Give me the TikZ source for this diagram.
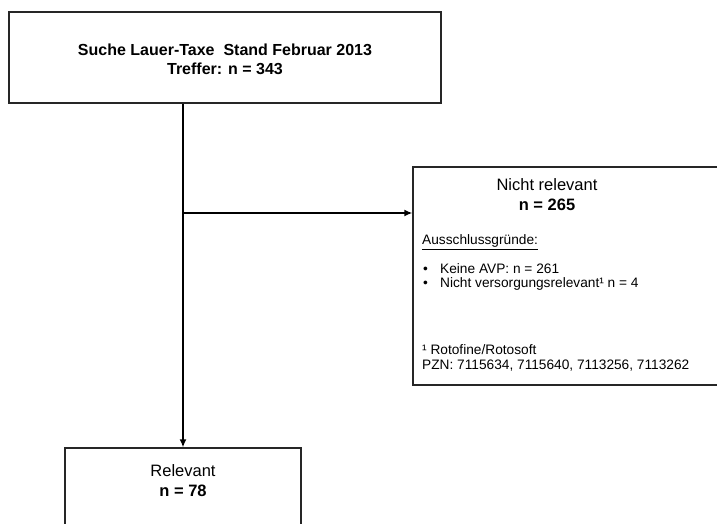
\documentclass[tikz,border=0pt]{standalone}
\usepackage{fontspec}
\setmainfont{Liberation Sans}
\usetikzlibrary{arrows.meta}
\begin{document}
\begin{tikzpicture}[x=1pt,y=-1pt,
  box/.style={draw=black!85, line width=1.3pt, rectangle, inner sep=0pt},
  arr/.style={line width=1.5pt, -{Latex[length=8pt,width=7pt]}},
  txt/.style={inner sep=0pt, align=left, anchor=west},
  ctxt/.style={inner sep=0pt, align=center},
  ]
\useasboundingbox[fill=white] (0,0) rectangle (717,524);
% boxes
\node[box, minimum width=432pt, minimum height=91pt] (top) at (225,57.5) {};
\node[box, minimum width=305pt, minimum height=218pt] (nr) at (565.5,276) {};
\node[box, minimum width=236pt, minimum height=100pt] (rel) at (183,498) {};
% texts
\node[ctxt, font=\fontsize{16}{19}\selectfont\bfseries] (toptxt) at (225,59.5)
  {Suche Lauer-Taxe~~Stand Februar 2013\\Treffer: n = 343};
\node[ctxt, font=\fontsize{16.5}{20}\selectfont] (nrh) at (547,195)
  {Nicht relevant\\\textbf{n = 265}};
\node[txt, font=\fontsize{13.7}{14.5}\selectfont] (aus) at (422,242)
  {\underline{Ausschlussgründe:}};
\node[txt, font=\fontsize{13.7}{14.5}\selectfont] (bul) at (423,277)
  {\makebox[17pt][l]{•}Keine AVP: n = 261\\\makebox[17pt][l]{•}Nicht versorgungsrelevant¹ n = 4};
\node[txt, font=\fontsize{13.7}{14.5}\selectfont] (fn) at (422,358)
  {¹ Rotofine/Rotosoft\\PZN: 7115634, 7115640, 7113256, 7113262};
\node[ctxt, font=\fontsize{16.5}{20}\selectfont] (reltxt) at (183,481)
  {Relevant\\\textbf{n = 78}};
% connectors
\draw[arr] (top.south -| rel.north) -- (rel.north);
\coordinate (br) at (183,213);
\draw[arr] (br) -- (br -| nr.west);
\end{tikzpicture}
\end{document}
